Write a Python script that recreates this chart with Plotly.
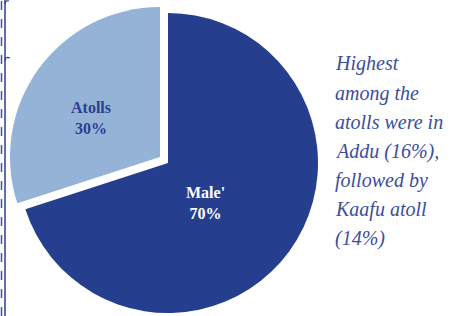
import plotly.graph_objects as go

# ---- data ----
categories = ["Male'", "Atolls"]
shares = [70, 30]
slice_colors = ["#253F8E", "#95B3D7"]
label_colors = ["#FFFFFF", "#2B3F8E"]
note_lines = ["Highest", "among the", "atolls were in", "Addu (16%),",
              "followed by", "Kaafu atoll", "(14%)"]

W, H = 454, 316
def px(x):
    return x / W
def py(y):
    return 1 - y / H

fig = go.Figure()

# main pie (Male' slice), centre (168,163), r=150
cx, cy, r = 168, 163, 150
# pulled-out Atolls slice, shifted up-left
ox, oy = -8, -6

def dom(cx, cy, r):
    return dict(x=[px(cx - r), px(cx + r)], y=[py(cy + r), py(cy - r)])

for i, (ccx, ccy) in enumerate([(cx, cy), (cx + ox, cy + oy)]):
    cols = ["rgba(0,0,0,0)"] * len(categories)
    cols[i] = slice_colors[i]
    fig.add_trace(go.Pie(
        labels=categories, values=shares, sort=False, direction="clockwise",
        rotation=0, marker=dict(colors=cols, line=dict(width=0)),
        textinfo="none", hoverinfo="skip", showlegend=False,
        domain=dom(ccx, ccy, r),
    ))

# slice labels
label_pos = [(205.5, 203), (91, 118)]
for cat, val, col, (lx, ly) in zip(categories, shares, label_colors, label_pos):
    fig.add_annotation(
        x=px(lx), y=py(ly), xref="paper", yref="paper",
        text=f"<b>{cat}</b><br><b>{val}%</b>", showarrow=False,
        font=dict(family="Liberation Serif", size=16, color=col),
        xanchor="center", yanchor="middle", align="center",
    )

# note text on the right
base0, step = 70, 29
for k, line in enumerate(note_lines):
    fig.add_annotation(
        x=px(333), y=py(base0 + k * step - 6), xref="paper", yref="paper",
        text=f"<i>{line}</i>", showarrow=False,
        font=dict(family="Liberation Serif", size=20, color="#3B4E9C"),
        xanchor="left", yanchor="middle", align="left",
    )

# decorative left border
shapes = [
    dict(type="line", xref="paper", yref="paper", x0=px(5), x1=px(5), y0=0, y1=1,
         line=dict(color="#2B3F8E", width=1.5)),
    dict(type="line", xref="paper", yref="paper", x0=px(1.5), x1=px(1.5), y0=0, y1=1,
         line=dict(color="#3C55A5", width=1.5, dash="dash")),
    dict(type="path", xref="paper", yref="paper",
         path=f"M {px(5)} {py(4)} Q {px(5)} {py(0)} {px(9)} {py(1)}",
         line=dict(color="#2B3F8E", width=1.2)),
    dict(type="path", xref="paper", yref="paper",
         path=f"M {px(5)} {py(61)} Q {px(5)} {py(56)} {px(10)} {py(58)}",
         line=dict(color="#2B3F8E", width=1.2)),
]

fig.update_layout(
    width=W, height=H, margin=dict(l=0, r=0, t=0, b=0),
    paper_bgcolor="white", plot_bgcolor="white", shapes=shapes,
)

fig.write_html("out.html", config={"displayModeBar": False},
               post_script="document.body.style.margin='0';document.body.style.overflow='hidden';")
